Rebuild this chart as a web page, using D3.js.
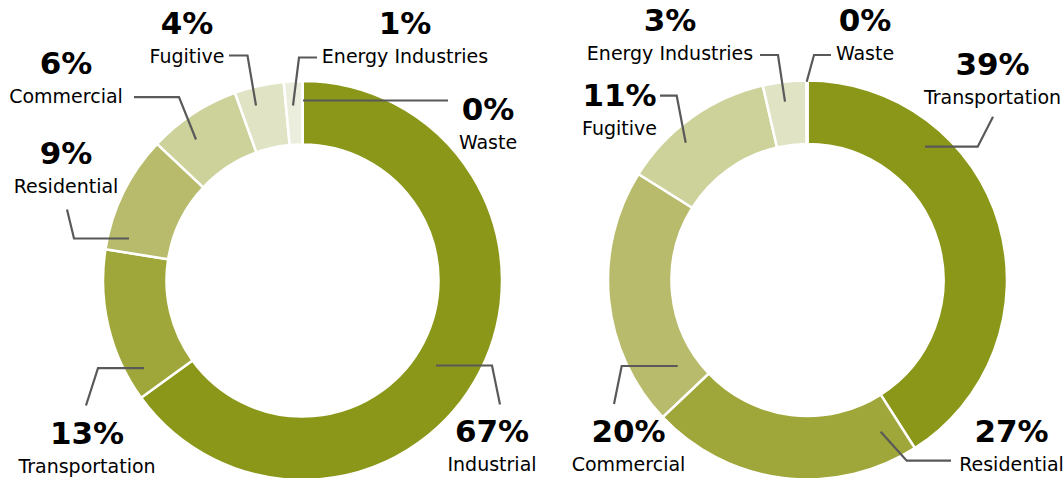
<!DOCTYPE html>
<html>
<head>
<meta charset="utf-8">
<script src="https://cdn.jsdelivr.net/npm/d3@7"></script>
<style>
  body { margin: 0; background: #fff; }
  svg { display: block; }
  text { font-family: "DejaVu Sans", Verdana, sans-serif; fill: #000; }
  .pct { font-weight: bold; font-size: 31px; }
  .name { font-size: 19px; }
</style>
</head>
<body>
<script>
// left ring
let leftCategories = ["Industrial", "Transportation", "Residential", "Commercial", "Fugitive", "Energy Industries", "Waste"];
let leftValues = [65, 12.5, 9.5, 7.5, 4, 1.5, 0];
let leftLabels = ["67%", "13%", "9%", "6%", "4%", "1%", "0%"];

// right ring
let rightCategories = ["Transportation", "Residential", "Commercial", "Fugitive", "Energy Industries", "Waste"];
let rightValues = [41, 22, 21, 12.5, 3.5, 0.1];
let rightLabels = ["39%", "27%", "20%", "11%", "3%", "0%"];

let colors = ["#8b9719", "#a0a73a", "#b7bb6b", "#cdd19a", "#e0e3c4", "#eceedd"];

// leader lines + label spots, relative to the ring centre
let leftLayout = [
  {pts: [[133.5, 85], [189.5, 85], [197.5, 124]], tx: 189.5, ty: 161},
  {pts: [[-158.5, 87.6], [-204.5, 87.6], [-216.5, 125]], tx: -215.5, ty: 163},
  {pts: [[-173.5, -42], [-228.5, -42], [-235.5, -71]], tx: -236.5, ty: -117},
  {pts: [[-106.5, -141], [-123.5, -183.4], [-168.5, -183.4]], tx: -236.5, ty: -207},
  {pts: [[-46.5, -175], [-55, -225], [-73.5, -225]], tx: -115.5, ty: -247},
  {pts: [[-9.5, -175], [-3.5, -223], [14.5, -223]], tx: 102.5, ty: -247},
  {pts: [[0.5, -180], [145.5, -180]], tx: 185.5, ty: -161}
];

let rightLayout = [
  {pts: [[117.5, -133.3], [170.2, -133.3], [185.5, -163.3]], tx: 185, ty: -205},
  {pts: [[73.2, 151.7], [99.2, 180.7], [143.5, 180.7]], tx: 204, ty: 162},
  {pts: [[-129.8, 86], [-185.8, 86], [-193.5, 124]], tx: -179, ty: 162},
  {pts: [[-121.8, -137.3], [-130.8, -184.3], [-147.5, -184.3]], tx: -188, ty: -174},
  {pts: [[-22.5, -178.3], [-29.5, -225], [-47.5, -225]], tx: -137.5, ty: -249},
  {pts: [[-0.8, -198.3], [6.5, -225], [23.5, -225]], tx: 57.5, ty: -249}
];

let width = 1063;
let height = 478;

let svg = d3.select("body").append("svg")
    .attr("width", width)
    .attr("height", height);

drawRing(302.5, 280.5, leftCategories, leftValues, leftLabels, leftLayout);
drawRing(807.5, 280, rightCategories, rightValues, rightLabels, rightLayout);

function drawRing(cx, cy, categories, values, labels, layout) {
  let outer = 199.5;
  let inner = 136;

  let pie = d3.pie().sort(null).value(d => d);
  let arc = d3.arc().innerRadius(inner).outerRadius(outer);

  let color = d3.scaleOrdinal().domain(categories).range(colors);

  let g = svg.append("g")
      .attr("transform", "translate(" + cx + "," + cy + ")");

  g.selectAll("path.slice")
    .data(pie(values))
    .enter().append("path")
      .attr("class", "slice")
      .attr("d", arc)
      .attr("fill", (d, i) => color(categories[i]))
      .attr("stroke", "#fff")
      .attr("stroke-width", 2.5);

  let line = d3.line();

  g.selectAll("path.leader")
    .data(layout)
    .enter().append("path")
      .attr("class", "leader")
      .attr("d", d => line(d.pts))
      .attr("fill", "none")
      .attr("stroke", "#595959")
      .attr("stroke-width", 2.2);

  let lab = g.selectAll("g.label")
    .data(layout)
    .enter().append("g")
      .attr("class", "label")
      .attr("transform", d => "translate(" + d.tx + "," + d.ty + ")");

  lab.append("text")
    .attr("class", "pct")
    .attr("text-anchor", "middle")
    .text((d, i) => labels[i]);

  lab.append("text")
    .attr("class", "name")
    .attr("text-anchor", "middle")
    .attr("y", 29)
    .text((d, i) => categories[i]);
}
</script>
</body>
</html>
